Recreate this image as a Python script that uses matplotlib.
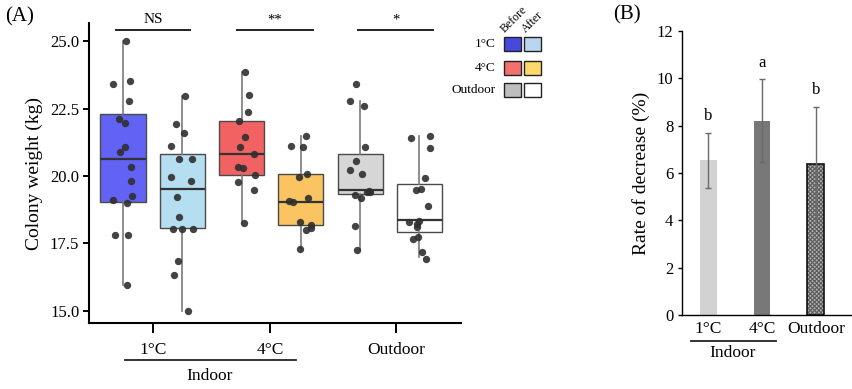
import matplotlib
matplotlib.use("Agg")
import matplotlib.pyplot as plt
from matplotlib.patches import Rectangle
import numpy as np

plt.rcParams['font.family'] = ['Liberation Serif', 'DejaVu Serif']
plt.rcParams['hatch.linewidth'] = 0.8

# ---------------- Panel A data ----------------
box_labels = ["1°C before", "1°C after", "4°C before", "4°C after", "Outdoor before", "Outdoor after"]
group_labels = ["1°C", "4°C", "Outdoor"]

q1 = [19.05, 18.07, 20.04, 18.19, 19.33, 17.94]
med = [20.64, 19.51, 20.81, 19.05, 19.48, 18.36]
q3 = [22.28, 20.80, 22.02, 20.06, 20.83, 19.72]
whislo = [15.95, 15.00, 18.26, 17.30, 17.26, 16.99]
whishi = [25.00, 22.97, 23.85, 21.48, 22.78, 21.48]

pts_1c_before = [25.0, 23.41, 23.52, 22.78, 22.13, 21.98, 21.08, 20.9, 20.32, 19.81, 19.26, 19.1, 18.98, 17.83, 17.83, 15.95]
pts_1c_after = [22.97, 21.91, 21.61, 21.1, 20.64, 20.64, 19.98, 19.81, 19.21, 18.47, 18.05, 18.02, 18.05, 16.84, 16.32, 15.0]
pts_4c_before = [23.85, 23.0, 22.37, 22.05, 21.44, 21.07, 20.8, 20.34, 20.3, 20.04, 19.78, 19.49, 18.26]
pts_4c_after = [21.48, 21.1, 21.07, 20.06, 19.95, 19.07, 19.02, 19.17, 18.28, 18.19, 18.06, 18.01, 17.30]
pts_out_before = [23.4, 22.78, 22.59, 21.09, 20.56, 20.22, 20.09, 19.46, 19.42, 19.4, 19.3, 19.2, 18.15, 17.26]
pts_out_after = [21.47, 21.4, 21.05, 19.91, 19.48, 19.5, 18.9, 18.32, 18.3, 18.22, 18.1, 17.75, 17.68, 17.2, 16.91]
points = [pts_1c_before, pts_1c_after, pts_4c_before, pts_4c_after, pts_out_before, pts_out_after]

# jitter (horizontal layout only)
jit_px = [
    [8, -31, 20, 17, -13, 6, 5, -9, 24, 24, 27, -31, 11, -25, 16, 12],
    [9, -18, 4, -34, -9, 29, -34, 26, -15, -9, -29, -1, 31, -12, -24, 18],
    [10, 23, 20, -7, 10, -5, 37, -12, 4, 40, -10, 37, 6],
    [15, -30, 7, 19, -6, -36, -23, 22, -4, 29, 31, 16, -3],
    [-13, -30, 12, 15, -13, -31, 6, 26, 30, 19, -16, 1, -16, -11],
    [31, -24, 32, 18, -10, 5, 25, 0, -30, -7, -8, -3, -18, 8, 21],
]

sig_labels = ["NS", "**", "*"]

# ---------------- Panel B data ----------------
b_categories = ["1°C", "4°C", "Outdoor"]
b_values = [6.54, 8.21, 6.37]
b_errors = [1.17, 1.75, 2.43]
b_letters = ["b", "a", "b"]

face_cols = ["#6262F4", "#B5DFF1", "#F26262", "#FAC462", "#D6D6D6", "#FFFFFF"]
legend_cols = ["#4848DE", "#B9D6F0", "#F27070", "#FBD96A", "#BEBEBE", "#FFFFFF"]

fig = plt.figure(figsize=(8.52, 3.89), dpi=100)
W, H = 852, 389

def fx(px):
    return px / W

def fy(py):
    return 1 - py / H

# ================= Panel A =================
axA = fig.add_axes([fx(89), fy(323), fx(461) - fx(89), fy(23) - fy(323)])
pos = np.arange(6)
stats = []
for i in range(6):
    stats.append(dict(med=med[i], q1=q1[i], q3=q3[i], whislo=whislo[i], whishi=whishi[i], fliers=[], label=box_labels[i]))
bp = axA.bxp(stats, positions=pos, widths=0.76, patch_artist=True, showcaps=False,
             boxprops=dict(edgecolor="#4a4a4a", linewidth=1.0),
             medianprops=dict(color="#333333", linewidth=1.6),
             whiskerprops=dict(color="#7a7a7a", linewidth=1.2))
for patch, c in zip(bp['boxes'], face_cols):
    patch.set_facecolor(c)
for i in range(6):
    xs = pos[i] + np.array(jit_px[i]) / 178.0
    axA.scatter(xs, points[i], s=28, color="#2f2f2f", alpha=0.9, zorder=5, linewidths=0)

axA.set_xlim(-0.573, 5.70)
axA.set_ylim(14.55, 25.67)
axA.set_yticks([15.0, 17.5, 20.0, 22.5, 25.0])
axA.set_yticklabels(["15.0", "17.5", "20.0", "22.5", "25.0"], fontsize=12)
axA.set_xticks([0.506, 2.48, 4.6])
axA.set_xticklabels(group_labels, fontsize=12.5)
axA.tick_params(axis='x', length=7, width=1.4, pad=7)
axA.tick_params(axis='y', length=4, width=1.4, pad=3)
for s in ['top', 'right']:
    axA.spines[s].set_visible(False)
for s in ['left', 'bottom']:
    axA.spines[s].set_linewidth(1.5)
axA.set_ylabel("Colony weight (kg)", fontsize=14, labelpad=5)

# significance lines
sig_spans = [(-0.12, 1.13), (1.93, 3.20), (3.96, 5.23)]
for (a, b), lab in zip(sig_spans, sig_labels):
    axA.plot([a, b], [25.42, 25.42], color="#222222", lw=1.4, clip_on=False)
    axA.text((a + b) / 2, 25.55, lab, ha='center', va='bottom', fontsize=11 if lab == "NS" else 10.5, clip_on=False)

fig.text(fx(5), fy(17), "(A)", fontsize=15, ha='left', va='center')
# Indoor line under panel A
fig.add_artist(plt.Line2D([fx(125), fx(296)], [fy(360), fy(360)], color="#222222", lw=1.3))
fig.text(fx(210), fy(376), "Indoor", fontsize=12.5, ha='center', va='center')

# ---------------- legend ----------------
row_y = [43.7, 68, 89.7]
row_names = ["1°C", "4°C", "Outdoor"]
for r in range(3):
    fig.text(fx(496), fy(row_y[r]), row_names[r], fontsize=9.5, ha='right', va='center')
    for k in range(2):
        x0 = 504 + k * 20
        rect = Rectangle((fx(x0), fy(row_y[r] + 7)), fx(17), fy(0) - fy(14),
                         transform=fig.transFigure, facecolor=legend_cols[2 * r + k],
                         edgecolor="#222222", linewidth=1.0)
        fig.add_artist(rect)
fig.text(fx(507), fy(35), "Before", fontsize=8.5, rotation=45, ha='left', va='bottom', rotation_mode='anchor')
fig.text(fx(528), fy(35), "After", fontsize=8.5, rotation=45, ha='left', va='bottom', rotation_mode='anchor')

# ================= Panel B =================
axB = fig.add_axes([fx(681.7), fy(315), fx(850.7) - fx(681.7), fy(31) - fy(315)])
bx = np.arange(3)
bar_face = ["#D2D2D2", "#787878", "#B4B4B4"]
bar_edge = ["#D2D2D2", "#787878", "#5a5a5a"]
bars = axB.bar(bx, b_values, width=0.31, color=bar_face, edgecolor=bar_edge, linewidth=0)
bars[2].set_hatch("xxxxxxxx")
# outline for the hatched bar
axB.bar(bx[2:], b_values[2:], width=0.31, facecolor='none', edgecolor="#111111", linewidth=1.2)
axB.errorbar(bx, b_values, yerr=b_errors, fmt='none', ecolor="#6a6a6a", elinewidth=1.0, capsize=2.5, capthick=1.0)
for i in range(3):
    axB.text(bx[i], b_values[i] + b_errors[i] + 0.35, b_letters[i], ha='center', va='bottom', fontsize=12)
axB.set_xlim(-0.495, 2.65)
axB.set_ylim(0, 12)
axB.set_yticks([0, 2, 4, 6, 8, 10, 12])
axB.set_yticklabels(["0", "2", "4", "6", "8", "10", "12"], fontsize=12)
axB.set_xticks(bx)
axB.set_xticklabels(b_categories, fontsize=12.5)
axB.tick_params(axis='x', length=0, pad=4)
axB.tick_params(axis='y', length=3, width=1.0, pad=3)
for s in ['top', 'right']:
    axB.spines[s].set_visible(False)
axB.spines['left'].set_linewidth(1.0)
axB.spines['bottom'].set_linewidth(1.0)
axB.set_ylabel("Rate of decrease (%)", fontsize=14, labelpad=5)

fig.text(fx(627), fy(15), "(B)", fontsize=15, ha='center', va='center')
fig.add_artist(plt.Line2D([fx(691), fx(776)], [fy(341), fy(341)], color="#222222", lw=1.3))
fig.text(fx(733), fy(353), "Indoor", fontsize=12.5, ha='center', va='center')

fig.savefig("out.png", dpi=100)
